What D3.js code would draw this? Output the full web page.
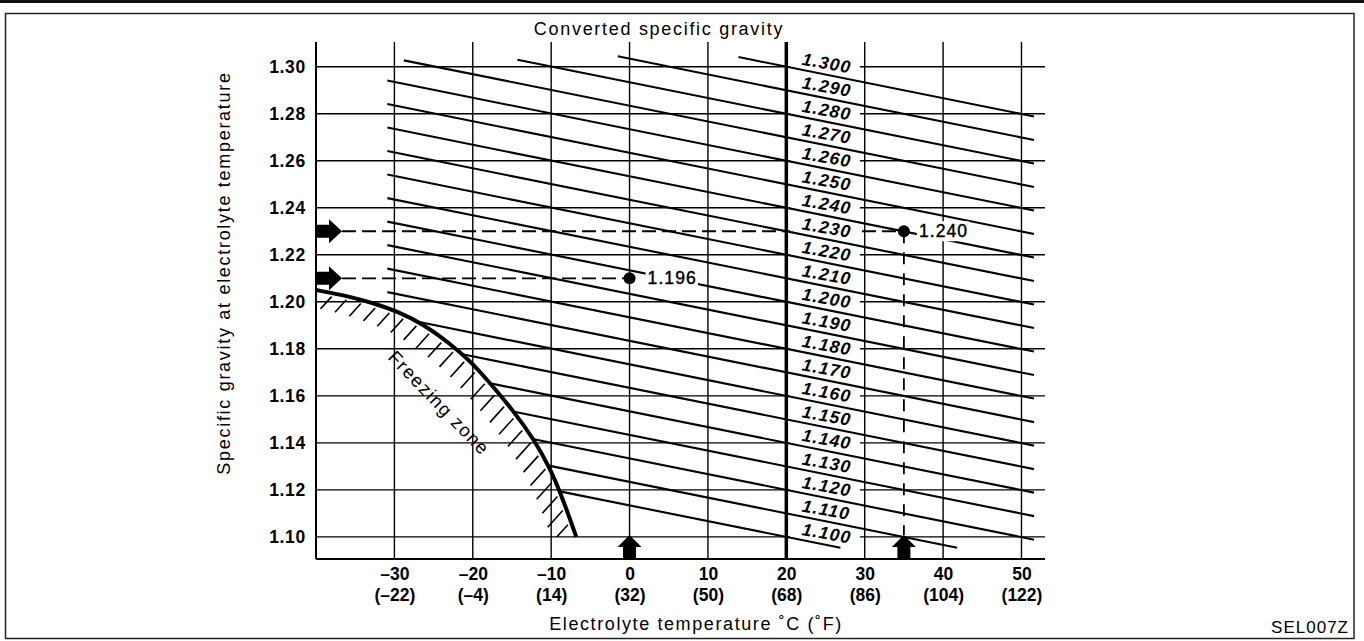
<!DOCTYPE html>
<html>
<head>
<meta charset="utf-8">
<script src="https://cdn.jsdelivr.net/npm/d3@7"></script>
<style>
  body { margin: 0; background: #fff; }
  svg { display: block; font-family: "Liberation Sans", Arial, Helvetica, sans-serif; }
</style>
</head>
<body>
<svg id="chart" width="1364" height="641"></svg>
<script>
// electrolyte temperature ticks (C) and the matching F labels
var tempTicks = [-30, -20, -10, 0, 10, 20, 30, 40, 50];
var fahrLabels = ['(–22)', '(–4)', '(14)', '(32)', '(50)', '(68)', '(86)', '(104)', '(122)'];
var sgTicks = [1.10, 1.12, 1.14, 1.16, 1.18, 1.20, 1.22, 1.24, 1.26, 1.28, 1.30];

// converted specific gravity lines (value at 20 C) and where each one starts / stops (C)
var convertedSG = [1.100, 1.110, 1.120, 1.130, 1.140, 1.150, 1.160, 1.170, 1.180, 1.190, 1.200,
                   1.210, 1.220, 1.230, 1.240, 1.250, 1.260, 1.270, 1.280, 1.290, 1.300];
var lineStartTemp = [-30.9, -30.9, -30.9, -30.9, -30.9, -30.9, -30.9, -30.9, -30.9, -30.9, -30.9,
                     -30.9, -30.9, -30.9, -30.9, -30.9, -30.9, -28.8, -14.3, -1.5, 13.9];
var lineEndTemp = [26.9, 41.8, 51.6, 51.6, 51.6, 51.6, 51.6, 51.6, 51.6, 51.6, 51.6,
                   51.6, 51.6, 51.6, 51.6, 51.6, 51.6, 51.6, 51.6, 51.6, 51.6];
var corrPerDeg = 0.00067;

// freezing curve
var freezeTemp = [-40, -35.7, -32.3, -29.7, -26.3, -22.9, -20.4, -18.2, -14.8, -12.2, -10.1, -8.4, -6.8];
var freezeSG = [1.2050, 1.2023, 1.1990, 1.1960, 1.1905, 1.1822, 1.1750, 1.1670, 1.1536, 1.1415, 1.1290, 1.1152, 1.1000];

// worked examples
var exampleTemp = [0, 35];
var exampleSG = [1.21, 1.23];
var exampleConv = ['1.196', '1.240'];

var svg = d3.select('#chart');
var x = d3.scaleLinear().domain([-40, 53]).range([316, 1045]);
var y = d3.scaleLinear().domain([1.0906, 1.3105]).range([559, 42]);
var plotTop = y.range()[1], plotBottom = y.range()[0], plotLeft = x.range()[0], plotRight = x.range()[1];

function lineSG(v, t) { return v - corrPerDeg * (t - 20); }
var freezeAt = d3.scaleLinear().domain(freezeTemp).range(freezeSG).clamp(true);

// frame
svg.append('rect').attr('x', 0).attr('y', 0).attr('width', 1364).attr('height', 3).attr('fill', '#111');
svg.append('rect').attr('x', 5.5).attr('y', 13.5).attr('width', 1348.5).attr('height', 625)
  .attr('fill', 'none').attr('stroke', '#222').attr('stroke-width', 1.5);

// grid
var grid = svg.append('g').attr('stroke', '#000').attr('stroke-width', 1.4);
grid.selectAll('.hg').data(sgTicks).join('line').attr('class', 'hg')
  .attr('x1', plotLeft).attr('x2', plotRight)
  .attr('y1', function(d) { return y(d); }).attr('y2', function(d) { return y(d); });
grid.selectAll('.vg').data(tempTicks.filter(function(d) { return d !== 20; })).join('line').attr('class', 'vg')
  .attr('x1', function(d) { return x(d); }).attr('x2', function(d) { return x(d); })
  .attr('y1', plotTop).attr('y2', plotBottom);
grid.append('line').attr('x1', plotLeft).attr('x2', plotLeft).attr('y1', plotTop).attr('y2', plotBottom).attr('stroke-width', 2);
grid.append('line').attr('x1', plotLeft).attr('x2', plotRight).attr('y1', plotBottom).attr('y2', plotBottom).attr('stroke-width', 2);

// dashed guide lines of the examples
var dash = svg.append('g').attr('stroke', '#000').attr('stroke-width', 1.8).attr('stroke-dasharray', '14,6');
exampleTemp.forEach(function(t, i) {
  dash.append('line').attr('x1', plotLeft + 26).attr('x2', x(t))
    .attr('y1', y(exampleSG[i])).attr('y2', y(exampleSG[i]));
});
dash.append('line').attr('x1', x(exampleTemp[1])).attr('x2', x(exampleTemp[1]))
  .attr('y1', y(exampleSG[1])).attr('y2', plotBottom - 24).attr('stroke-dasharray', '12,9');

// white backing of the line labels (cuts the grid)
var labX = x(20) + 15;
var labT = x.invert(labX);
var labelBg = svg.append('g');
var lineG = svg.append('g');
var labelG = svg.append('g');

convertedSG.forEach(function(v, i) {
  var ly = y(lineSG(v, labT)) - 5;
  labelBg.append('rect')
    .attr('transform', 'translate(' + labX + ',' + ly + ') rotate(10)')
    .attr('x', -11).attr('y', -14).attr('width', 69).attr('height', 18).attr('fill', '#fff');
  labelG.append('text')
    .attr('transform', 'translate(' + labX + ',' + ly + ') rotate(10)')
    .attr('font-size', 17.5).attr('font-weight', 'bold').attr('font-style', 'italic')
    .style('letter-spacing', '1.2px')
    .text(v.toFixed(3));
});

// converted lines, clipped by the freezing curve
convertedSG.forEach(function(v, i) {
  var t0 = lineStartTemp[i], t1 = lineEndTemp[i];
  while (t0 < t1 && t0 < freezeTemp[freezeTemp.length - 1] && lineSG(v, t0) < freezeAt(t0)) t0 += 0.02;
  lineG.append('line')
    .attr('x1', x(t0)).attr('y1', y(lineSG(v, t0)))
    .attr('x2', x(t1)).attr('y2', y(lineSG(v, t1)))
    .attr('stroke', '#000').attr('stroke-width', 2.1);
});

// thick 20 C line
svg.append('line').attr('x1', x(20)).attr('x2', x(20)).attr('y1', plotTop).attr('y2', plotBottom)
  .attr('stroke', '#000').attr('stroke-width', 3.5);

// freezing curve + hatching
var fz = svg.append('g');
svg.append('clipPath').attr('id', 'plotclip').append('rect')
  .attr('x', plotLeft).attr('y', plotTop).attr('width', plotRight - plotLeft).attr('height', y(1.10) - plotTop);
var curveGen = d3.line()
  .x(function(d, i) { return x(freezeTemp[i]); })
  .y(function(d, i) { return y(freezeSG[i]); })
  .curve(d3.curveBasis);
var curvePath = fz.append('path').attr('d', curveGen(freezeTemp))
  .attr('fill', 'none').attr('stroke', '#000').attr('stroke-width', 4);
var node = curvePath.node(), total = node.getTotalLength();
var hatch = d3.range(4, total - 2, 15).map(function(l) {
  var p = node.getPointAtLength(l);
  var a = node.getPointAtLength(Math.max(0, l - 2)), b = node.getPointAtLength(Math.min(total, l + 2));
  var steep = Math.abs(Math.sin(Math.atan2(b.y - a.y, b.x - a.x)));
  return { x: p.x, y: p.y, len: 15 + 8 * steep };
});
fz.append('g').attr('clip-path', 'url(#plotclip)')
  .selectAll('line').data(hatch).join('line')
  .attr('x1', function(d) { return d.x - 3; }).attr('y1', function(d) { return d.y + 3; })
  .attr('x2', function(d) { return d.x - 3 - d.len * 0.67; }).attr('y2', function(d) { return d.y + 3 + d.len * 0.74; })
  .attr('stroke', '#000').attr('stroke-width', 1.6);
svg.append('text')
  .attr('transform', 'translate(' + x(-24.3) + ',' + y(1.1570) + ') rotate(46)')
  .attr('text-anchor', 'middle').attr('dy', '0.35em')
  .attr('font-size', 18.5).style('letter-spacing', '1.5px')
  .text('Freezing zone');

// example points and their results
var ex = svg.append('g');
exampleTemp.forEach(function(t, i) {
  var px = x(t), py = y(exampleSG[i]);
  var txt = ex.append('text').attr('x', px + (i === 0 ? 18 : 15)).attr('y', py + 6)
    .attr('font-size', 17.5).attr('stroke', '#000').attr('stroke-width', 0.45)
    .style('letter-spacing', '1.1px').text(exampleConv[i]);
  var bb = txt.node().getBBox();
  ex.insert('rect', 'text').attr('x', bb.x - 2).attr('y', bb.y).attr('width', bb.width + 3).attr('height', bb.height)
    .attr('fill', '#fff');
  ex.append('circle').attr('cx', px).attr('cy', py).attr('r', 6).attr('fill', '#000');
});

// arrows
var arrows = svg.append('g').attr('fill', '#000');
exampleSG.forEach(function(s) {
  arrows.append('path').attr('transform', 'translate(' + plotLeft + ',' + y(s) + ')')
    .attr('d', 'M0,-6.5H13V-12L26,0L13,12V6.5H0Z');
});
exampleTemp.forEach(function(t) {
  arrows.append('path').attr('transform', 'translate(' + x(t) + ',' + plotBottom + ')')
    .attr('d', 'M-6.5,0V-12H-12L0,-24L12,-12H6.5V0Z');
});

// axes
var yAxis = svg.append('g').attr('transform', 'translate(' + plotLeft + ',0)')
  .call(d3.axisLeft(y).tickValues(sgTicks).tickSize(0).tickPadding(10).tickFormat(d3.format('.2f')));
yAxis.select('.domain').remove();
yAxis.selectAll('text').attr('font-size', 17.5).attr('font-weight', 'bold').attr('fill', '#000')
  .attr('font-family', null).style('letter-spacing', '0.7px');

var xAxis = svg.append('g').attr('transform', 'translate(0,' + plotBottom + ')')
  .call(d3.axisBottom(x).tickValues(tempTicks).tickSize(0));
xAxis.select('.domain').remove();
xAxis.selectAll('text').attr('font-size', 17.5).attr('font-weight', 'bold').attr('fill', '#000')
  .attr('font-family', null).attr('dy', null).attr('y', 0)
  .each(function(d, i) {
    var t = d3.select(this).text('');
    t.append('tspan').attr('x', 0).attr('y', 21).text(d < 0 ? '–' + Math.abs(d) : d);
    t.append('tspan').attr('x', 0).attr('y', 42).text(fahrLabels[i]);
  });

// titles
svg.append('text').attr('x', 659).attr('y', 35).attr('text-anchor', 'middle')
  .attr('font-size', 18).style('letter-spacing', '1.7px').text('Converted specific gravity');
svg.append('text').attr('transform', 'translate(230,273) rotate(-90)').attr('text-anchor', 'middle')
  .attr('font-size', 18).style('letter-spacing', '1.7px').text('Specific gravity at electrolyte temperature');
svg.append('text').attr('x', 696).attr('y', 630).attr('text-anchor', 'middle')
  .attr('font-size', 18).style('letter-spacing', '1.6px').text('Electrolyte temperature ˚C (˚F)');
svg.append('text').attr('x', 1349).attr('y', 633).attr('text-anchor', 'end')
  .attr('font-size', 17).style('letter-spacing', '1px').text('SEL007Z');
</script>
</body>
</html>
